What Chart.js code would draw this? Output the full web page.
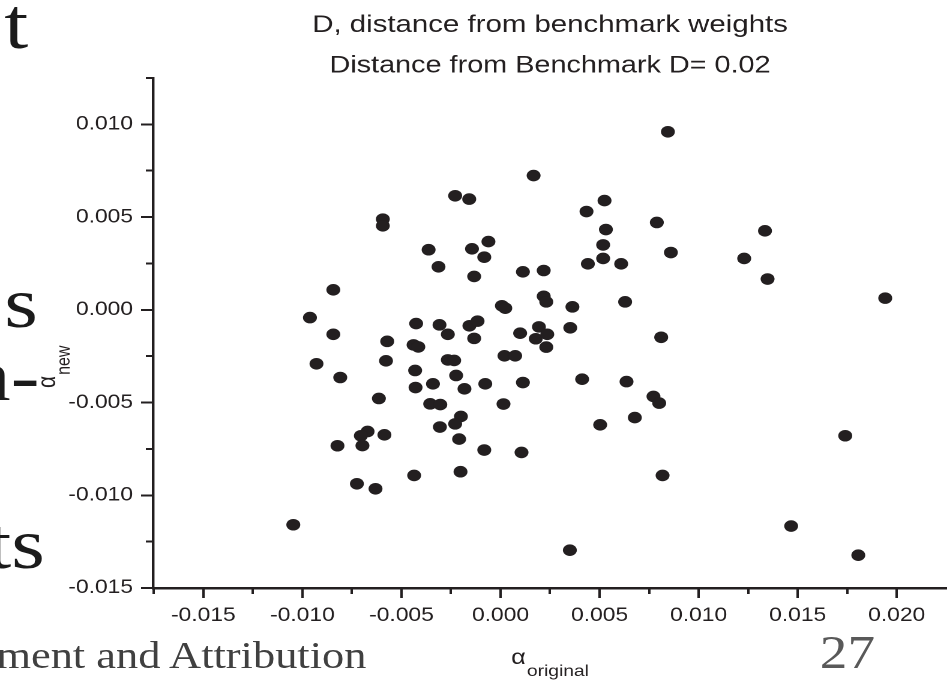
<!DOCTYPE html>
<html>
<head>
<meta charset="utf-8">
<script src="https://cdn.jsdelivr.net/npm/chart.js@4/dist/chart.umd.min.js"></script>
<style>
html, body { margin: 0; padding: 0; background: #ffffff; width: 947px; height: 681px; overflow: hidden; }
#stage { position: absolute; left: 0; top: 0; width: 789px; height: 681px; transform: scaleX(1.2003); transform-origin: 0 0; }
#chartBox { position: absolute; left: 0; top: 0; width: 789px; height: 681px; }
.slide { position: absolute; font-family: "Liberation Serif", "Times New Roman", serif; white-space: nowrap; line-height: 1; color: #1b1b1b; }
</style>
</head>
<body>
<div id="stage">
  <div class="slide" style="right:765.5px; top:-12px; font-size:72px;">t</div>
  <div class="slide" style="right:757.5px; top:267px; font-size:72px;">s</div>
  <div class="slide" style="right:756px; top:340px; font-size:72px;">n-</div>
  <div class="slide" style="right:751.5px; top:508px; font-size:72px;">ts</div>
  <div class="slide" style="left:-3px; top:637px; font-size:37px; color:#404040;">ment and Attribution</div>
  <div class="slide" style="left:683px; top:629.5px; font-size:46px; color:#595959;">27</div>
  <div id="chartBox"><canvas id="chart"></canvas></div>
</div>
<script>
// ---- data ----
const alphaOriginal = [
  0.00167, -0.00229, -0.00158, -0.00594, -0.00594, -0.00363, -0.00144, -0.00061, -0.00082, -0.00313,
  -0.00133, 0.00113, 0.00218, -0.00844, 0.00218, 0.00231, 0.00007, 0.00024, -0.00962, -0.00426,
  -0.00308, -0.00157, -0.00116, -0.00266, -0.00844, 0.00099, 0.00194, -0.00572, -0.00439, -0.00415,
  -0.00133, 0.00178, 0.00236, 0.00231, -0.00929, -0.00578, -0.00809, -0.00431, -0.00266, -0.00234,
  0.00020, 0.00074, -0.00224, -0.00341, -0.00429, -0.00182, -0.00077, 0.00113, -0.00614, -0.00355,
  -0.00304, 0.00015, -0.00200, -0.00229, -0.00306, -0.00671, -0.00705, -0.00586, -0.00697, -0.00823,
  -0.00209, -0.00082, 0.00106, -0.00436, -0.00202, -0.00725, -0.00631, -0.01046, 0.00845, 0.00525,
  0.00434, 0.00789, 0.01335, 0.00532, 0.00518, 0.00860, 0.01230, 0.00441, 0.00518, 0.00609,
  0.01348, 0.01942, 0.00363, 0.00629, 0.00352, 0.00811, 0.00412, 0.00636, 0.00772, 0.00801,
  0.00678, 0.00503, 0.01740, 0.00818, 0.01467, 0.00350, 0.01806
];
const alphaNew = [
  0.00724, 0.00615, 0.00597, 0.00489, 0.00453, 0.00324, 0.00329, 0.00368, 0.00284, 0.00232,
  0.00180, 0.00205, 0.00212, 0.00108, 0.00073, 0.00043, 0.00022, 0.00009, -0.00042, -0.00074,
  -0.00081, -0.00086, -0.00061, -0.00132, -0.00132, -0.00126, -0.00092, -0.00170, -0.00189, -0.00200,
  -0.00154, -0.00156, -0.00132, -0.00201, -0.00291, -0.00275, -0.00365, -0.00327, -0.00270, -0.00273,
  -0.00248, -0.00248, -0.00354, -0.00399, -0.00419, -0.00426, -0.00399, -0.00392, -0.00478, -0.00507,
  -0.00511, -0.00508, -0.00575, -0.00615, -0.00632, -0.00656, -0.00679, -0.00674, -0.00732, -0.00733,
  -0.00697, -0.00756, -0.00769, -0.00893, -0.00873, -0.00938, -0.00965, -0.01159, 0.00960, 0.00589,
  0.00530, 0.00471, 0.00426, 0.00433, 0.00350, 0.00309, 0.00277, 0.00248, 0.00277, 0.00248,
  0.00166, 0.00063, 0.00016, 0.00043, -0.00097, -0.00148, -0.00374, -0.00387, -0.00467, -0.00503,
  -0.00581, -0.00620, -0.00679, -0.00893, -0.01166, -0.01296, -0.01323
];
const xMajorTicks = [-0.015, -0.010, -0.005, 0.000, 0.005, 0.010, 0.015, 0.020];
const xMinorTicks = [-0.0175, -0.0125, -0.0075, -0.0025, 0.0025, 0.0075, 0.0125, 0.0175];
const yMajorTicks = [-0.015, -0.010, -0.005, 0.000, 0.005, 0.010];
const yMinorTicks = [-0.0125, -0.0075, -0.0025, 0.0025, 0.0075, 0.0125];
const xRange = [-0.01754, 0.02254];
const yRange = [-0.015, 0.0125];
const chartTitle = 'D, distance from benchmark weights';
const chartSubtitle = 'Distance from Benchmark D= 0.02';
const xTitle = ['\u03B1', 'original'];
const yTitle = ['\u03B1', 'new'];

// ---- styling ----
const INK = '#231f20';
const SANS = "'Liberation Sans', Arial, sans-serif";
Chart.defaults.font.family = SANS;

const points = alphaOriginal.map((x, i) => ({ x: x, y: alphaNew[i] }));

function drawSub(ctx, parts, x, y) {
  ctx.font = '21px ' + SANS;
  ctx.fillText(parts[0], x, y);
  const w = ctx.measureText(parts[0]).width;
  ctx.font = '16px ' + SANS;
  ctx.fillText(parts[1], x + w + 1, y + 12);
}
function subWidth(ctx, parts) {
  ctx.font = '21px ' + SANS;
  const a = ctx.measureText(parts[0]).width;
  ctx.font = '16px ' + SANS;
  return a + 1 + ctx.measureText(parts[1]).width;
}

const axisTitles = {
  id: 'axisTitles',
  afterDraw(chart) {
    const ctx = chart.ctx;
    const area = chart.chartArea;
    ctx.save();
    ctx.fillStyle = INK;
    ctx.textBaseline = 'alphabetic';
    ctx.textAlign = 'left';
    const cx = (area.left + area.right) / 2;
    drawSub(ctx, xTitle, cx - subWidth(ctx, xTitle) / 2, 664);
    ctx.translate(46, 388);
    ctx.rotate(-Math.PI / 2);
    drawSub(ctx, yTitle, 0, 0);
    ctx.restore();
  }
};

function fmt(v) { return Math.abs(v) < 1e-9 ? '0.000' : v.toFixed(3); }
function noPad(a) { a.paddingLeft = 0; a.paddingRight = 0; a.paddingTop = 0; a.paddingBottom = 0; }

new Chart(document.getElementById('chart'), {
  type: 'scatter',
  data: {
    datasets: [{
      data: points,
      pointRadius: 5.8,
      pointHoverRadius: 5.8,
      pointBackgroundColor: INK,
      pointBorderWidth: 0,
      borderWidth: 0,
      clip: false
    }]
  },
  options: {
    responsive: true,
    maintainAspectRatio: false,
    devicePixelRatio: 2,
    animation: false,
    events: [],
    layout: { padding: 0, autoPadding: false },
    plugins: {
      legend: { display: false },
      tooltip: { enabled: false },
      title: {
        display: true, fullSize: false, text: chartTitle, color: INK,
        font: { family: SANS, size: 24.5, weight: 'normal', lineHeight: 1 },
        padding: { top: 13, bottom: 16.5 }
      },
      subtitle: {
        display: true, fullSize: false, text: chartSubtitle, color: INK,
        font: { family: SANS, size: 24, weight: 'normal', lineHeight: 1 },
        padding: { top: 0, bottom: 0 }
      }
    },
    scales: {
      x: {
        type: 'linear', position: 'bottom', min: xRange[0], max: xRange[1],
        afterBuildTicks: a => { a.ticks = xMajorTicks.map(v => ({ value: v })); },
        afterFit: a => { a.height = 93; noPad(a); },
        grid: { display: true, drawOnChartArea: false, drawTicks: true, tickLength: 10, tickWidth: 2, tickColor: INK },
        border: { display: true, color: INK, width: 2.5 },
        ticks: { autoSkip: false, maxRotation: 0, minRotation: 0, padding: 6.6, color: INK,
                 font: { family: SANS, size: 19 }, callback: v => fmt(v) }
      },
      xMinor: {
        type: 'linear', position: 'bottom', weight: -1, min: xRange[0], max: xRange[1],
        afterBuildTicks: a => { a.ticks = xMinorTicks.map(v => ({ value: v })); },
        afterFit: a => { a.height = 0; noPad(a); },
        grid: { display: true, drawOnChartArea: false, drawTicks: true, tickLength: 6, tickWidth: 2, tickColor: INK },
        border: { display: false },
        ticks: { display: false }
      },
      y: {
        type: 'linear', position: 'left', min: yRange[0], max: yRange[1],
        afterBuildTicks: a => { a.ticks = yMajorTicks.map(v => ({ value: v })); },
        afterFit: a => { a.width = 127.5; noPad(a); },
        grid: { display: true, drawOnChartArea: false, drawTicks: true, tickLength: 10, tickWidth: 2, tickColor: INK },
        border: { display: true, color: INK, width: 2.2 },
        ticks: { autoSkip: false, padding: 6.7, color: INK,
                 font: { family: SANS, size: 19 }, callback: v => fmt(v) }
      },
      yMinor: {
        type: 'linear', position: 'left', weight: -1, min: yRange[0], max: yRange[1],
        afterBuildTicks: a => { a.ticks = yMinorTicks.map(v => ({ value: v })); },
        afterFit: a => { a.width = 0; noPad(a); },
        grid: { display: true, drawOnChartArea: false, drawTicks: true, tickLength: 6, tickWidth: 2, tickColor: INK },
        border: { display: false },
        ticks: { display: false }
      }
    }
  },
  plugins: [axisTitles]
});
</script>
</body>
</html>
